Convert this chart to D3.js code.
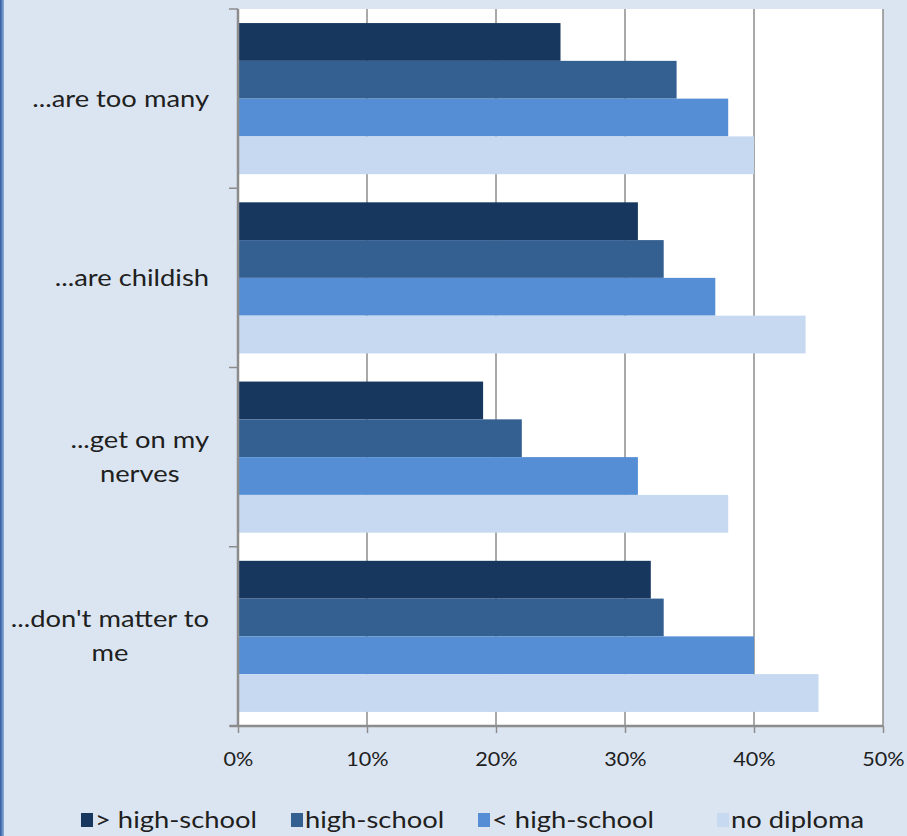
<!DOCTYPE html>
<html>
<head>
<meta charset="utf-8">
<script src="https://cdn.jsdelivr.net/npm/d3@7"></script>
<style>
  html, body { margin: 0; padding: 0; background: #dbe5f1; }
  svg { display: block; }
  text { font-family: Lato, "Open Sans", sans-serif; fill: #202020; }
</style>
</head>
<body>
<svg id="chart" width="907" height="836"></svg>
<script>
// Statements, top to bottom
const categories = [
  ["...are too many"],
  ["...are childish"],
  ["...get on my", "nerves"],
  ["...don't matter to", "me"]
];
const seriesNames = ["> high-school", "high-school", "< high-school", "no diploma"];
const seriesColors = ["#17375e", "#345f91", "#558ed5", "#c6d9f0"];
// Share agreeing (%), one array per education level
const aboveHighSchool = [25, 31, 19, 32];
const highSchool      = [34, 33, 22, 33];
const belowHighSchool = [38, 37, 31, 40];
const noDiploma       = [40, 44, 38, 45];
const xTicks = [0, 10, 20, 30, 40, 50];

const series = [aboveHighSchool, highSchool, belowHighSchool, noDiploma];

const svg = d3.select("#chart");
const W = 907, H = 836;
const STRETCH = 1.19;   // wide-set lettering

// text drawn with a horizontal stretch around its anchor point
function wideText(parent, x, y, str, size, anchor, sx = STRETCH) {
  return parent.append("text")
    .attr("transform", `translate(${x},${y}) scale(${sx},1)`)
    .attr("font-size", size)
    .attr("text-anchor", anchor)
    .attr("dy", "0.35em")
    .text(str);
}

// background and left window-edge strip
const grad = svg.append("defs").append("linearGradient").attr("id", "edge");
grad.append("stop").attr("offset", "0%").attr("stop-color", "#2f5aa0");
grad.append("stop").attr("offset", "100%").attr("stop-color", "#8fb0da");
svg.append("rect").attr("width", W).attr("height", H).attr("fill", "#dbe5f1");
svg.append("rect").attr("x", 0).attr("y", 0).attr("width", 4).attr("height", H).attr("fill", "url(#edge)");

const plot = { left: 238, right: 883, top: 9, bottom: 726 };

const x = d3.scaleLinear().domain([0, 50]).range([plot.left, plot.right]);
const y = d3.scaleBand().domain(d3.range(categories.length)).range([plot.top, plot.bottom]).paddingInner(0.157).paddingOuter(0.0785);
const ySub = d3.scaleBand().domain(d3.range(series.length)).range([0, y.bandwidth()]);

// plot area
svg.append("rect")
  .attr("x", plot.left).attr("y", plot.top)
  .attr("width", plot.right - plot.left).attr("height", plot.bottom - plot.top)
  .attr("fill", "#ffffff");

// vertical gridlines
svg.append("g").selectAll("line").data(xTicks.slice(1)).join("line")
  .attr("x1", d => x(d)).attr("x2", d => x(d))
  .attr("y1", plot.top).attr("y2", plot.bottom)
  .attr("stroke", "#8c8c8c").attr("stroke-width", 1.5);

// bars
const groups = svg.append("g").selectAll("g").data(categories).join("g")
  .attr("transform", (d, i) => `translate(0,${y(i)})`);
groups.selectAll("rect")
  .data((d, i) => series.map((s, k) => ({ k, v: s[i] })))
  .join("rect")
  .attr("x", x(0))
  .attr("y", d => ySub(d.k))
  .attr("width", d => x(d.v) - x(0))
  .attr("height", ySub.bandwidth())
  .attr("fill", d => seriesColors[d.k]);

// x axis
const xAxis = svg.append("g")
  .attr("transform", `translate(0,${plot.bottom})`)
  .call(d3.axisBottom(x).tickValues(xTicks).tickFormat(d => d + "%").tickSize(7));
xAxis.select(".domain").attr("stroke", "#8c8c8c").attr("stroke-width", 2.5)
  .attr("d", `M${plot.left - 8},0H${plot.right}`);
xAxis.selectAll(".tick line").attr("stroke", "#8c8c8c").attr("stroke-width", 1.5);
xAxis.selectAll(".tick text").remove();
xAxis.selectAll(".tick").each(function (d) {
  wideText(d3.select(this), 0, 33, d + "%", 20, "middle", 1.08);
});

// y axis: boundary ticks between categories
const bounds = d3.range(categories.length + 1).map(i => plot.top + i * (plot.bottom - plot.top) / categories.length);
const yAxis = svg.append("g");
yAxis.append("line")
  .attr("x1", plot.left).attr("x2", plot.left)
  .attr("y1", plot.top).attr("y2", plot.bottom)
  .attr("stroke", "#8c8c8c").attr("stroke-width", 2.5);
yAxis.selectAll("line.tk").data(bounds).join("line").attr("class", "tk")
  .attr("x1", plot.left - 9).attr("x2", plot.left)
  .attr("y1", d => d).attr("y2", d => d)
  .attr("stroke", "#8c8c8c").attr("stroke-width", 1.5);

// category labels: right-aligned block, lines centred within it
const labelRight = 209, lineH = 34, labelSize = 23;
categories.forEach((lines, i) => {
  const cy = y(i) + y.bandwidth() / 2;
  const g = svg.append("g");
  const texts = lines.map((t, j) =>
    wideText(g, 0, cy + (j - (lines.length - 1) / 2) * lineH, t, labelSize, "middle"));
  const maxW = d3.max(texts, t => t.node().getComputedTextLength()) * STRETCH;
  texts.forEach((t, j) => t.attr("transform",
    `translate(${labelRight - maxW / 2},${cy + (j - (lines.length - 1) / 2) * lineH}) scale(${STRETCH},1)`));
});

// legend
const legendX = [81, 291, 478, 717];
const legend = svg.append("g").attr("transform", "translate(0,820)");
seriesNames.forEach((name, k) => {
  legend.append("rect").attr("x", legendX[k]).attr("y", -7).attr("width", 12).attr("height", 14)
    .attr("fill", seriesColors[k]);
  wideText(legend, legendX[k] + 14, 0, name, 23, "start");
});
</script>
</body>
</html>
